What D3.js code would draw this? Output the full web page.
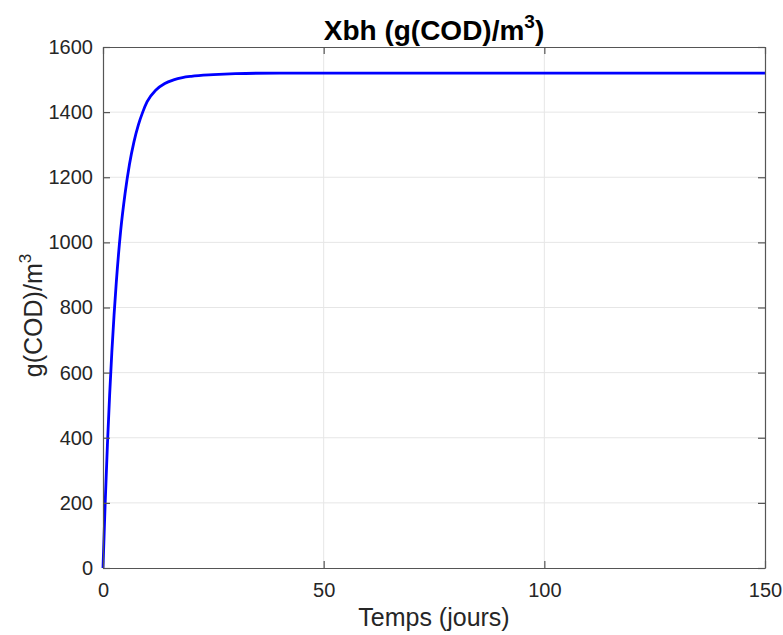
<!DOCTYPE html>
<html>
<head>
<meta charset="utf-8">
<script src="https://cdn.jsdelivr.net/npm/d3@7/dist/d3.min.js"></script>
<style>
  html, body { margin: 0; padding: 0; background: #fff; }
  svg { display: block; font-family: "Liberation Sans", Arial, Helvetica, sans-serif; }
</style>
</head>
<body>
<svg id="chart" width="783" height="635"></svg>
<script>
// Biomass concentration Xbh over time (days) — sampled from the simulation run
const days  = [0, 0.5, 1, 1.5, 2, 2.5, 3, 4, 5, 6, 7, 8, 9, 10, 12, 14, 16, 18, 20, 25, 30, 40, 50, 100, 150];
const xbh   = [0, 202, 378, 530, 662, 776, 875, 1035, 1150, 1240, 1308, 1360, 1400, 1432, 1468, 1488, 1499, 1506, 1510, 1515, 1518, 1520, 1520, 1520, 1520];
const xTicks = [0, 50, 100, 150];
const yTicks = [0, 200, 400, 600, 800, 1000, 1200, 1400, 1600];

const margin = { top: 47, right: 18, bottom: 67, left: 103 };
const W = 783, H = 635;
const iw = W - margin.left - margin.right;
const ih = H - margin.top - margin.bottom;

const svg = d3.select("#chart");
const g = svg.append("g").attr("transform", `translate(${margin.left},${margin.top})`);

const x = d3.scaleLinear().domain([0, 150]).range([0, iw]);
const y = d3.scaleLinear().domain([0, 1600]).range([ih, 0]);

const axisColor = "#555555";
const tickLen = 7;

// grid lines
g.append("g").selectAll("line").data(yTicks.slice(1, -1)).join("line")
  .attr("x1", 0).attr("x2", iw)
  .attr("y1", d => y(d)).attr("y2", d => y(d))
  .attr("stroke", "#e6e6e6").attr("stroke-width", 1);
g.append("g").selectAll("line").data(xTicks.slice(1, -1)).join("line")
  .attr("y1", 0).attr("y2", ih)
  .attr("x1", d => x(d)).attr("x2", d => x(d))
  .attr("stroke", "#e6e6e6").attr("stroke-width", 1);

// data curve
const line = d3.line()
  .x((d, i) => x(days[i]))
  .y(d => y(d))
  .curve(d3.curveMonotoneX);
g.append("path")
  .datum(xbh)
  .attr("d", line)
  .attr("fill", "none")
  .attr("stroke", "#0000ff")
  .attr("stroke-width", 2.8)
  .attr("stroke-linejoin", "round");

// axes with inward ticks
function styleAxis(sel) {
  sel.selectAll("path.domain").attr("stroke", axisColor).attr("stroke-width", 1.2);
  sel.selectAll(".tick line").attr("stroke", axisColor).attr("stroke-width", 1.2);
  sel.selectAll(".tick text").attr("fill", "#262626").attr("font-size", 20)
     .attr("font-family", "Liberation Sans, Arial, sans-serif");
}

const xAxisB = g.append("g").attr("transform", `translate(0,${ih})`)
  .call(d3.axisBottom(x).tickValues(xTicks).tickFormat(d3.format("d"))
        .tickSizeInner(-tickLen).tickSizeOuter(0).tickPadding(15));
styleAxis(xAxisB);

const xAxisT = g.append("g")
  .call(d3.axisTop(x).tickValues(xTicks).tickFormat("")
        .tickSizeInner(-tickLen).tickSizeOuter(0));
styleAxis(xAxisT);

const yAxisL = g.append("g")
  .call(d3.axisLeft(y).tickValues(yTicks).tickFormat(d3.format("d"))
        .tickSizeInner(-tickLen).tickSizeOuter(0).tickPadding(10));
styleAxis(yAxisL);

const yAxisR = g.append("g").attr("transform", `translate(${iw},0)`)
  .call(d3.axisRight(y).tickValues(yTicks).tickFormat("")
        .tickSizeInner(-tickLen).tickSizeOuter(0));
styleAxis(yAxisR);

// title
const title = svg.append("text")
  .attr("x", margin.left + iw / 2).attr("y", 40)
  .attr("text-anchor", "middle")
  .attr("font-size", 28).attr("font-weight", "bold").attr("fill", "#000");
title.append("tspan").text("Xbh (g(COD)/m");
title.append("tspan").attr("font-size", 19).attr("dy", -12).text("3");
title.append("tspan").attr("dy", 12).text(")");

// x label
svg.append("text")
  .attr("x", margin.left + iw / 2).attr("y", 626)
  .attr("text-anchor", "middle")
  .attr("font-size", 25).attr("fill", "#262626")
  .text("Temps (jours)");

// y label
const yl = svg.append("text")
  .attr("transform", `translate(42,${margin.top + ih / 2 + 8}) rotate(-90)`)
  .attr("text-anchor", "middle")
  .attr("font-size", 25).attr("fill", "#262626");
yl.append("tspan").text("g(COD)/m");
yl.append("tspan").attr("font-size", 17).attr("dy", -11).text("3");
</script>
</body>
</html>
